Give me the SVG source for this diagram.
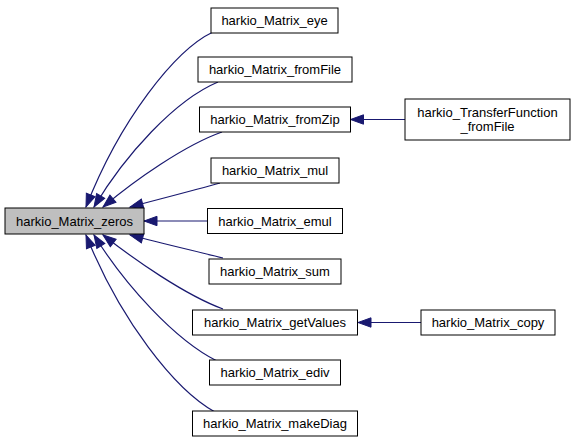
<svg xmlns="http://www.w3.org/2000/svg" width="575" height="443" viewBox="0 0 575 443">
<style>
.n rect{fill:#ffffff;stroke:#000000;stroke-width:1}
.n.root rect{fill:#bfbfbf}
.n text{font-family:"Liberation Sans",Arial,sans-serif;font-size:13px;fill:#000000;text-anchor:middle}
.e path{fill:none;stroke:#191970;stroke-width:1.2}
</style>
<defs>
<marker id="ah" markerUnits="userSpaceOnUse" markerWidth="16" markerHeight="12" refX="14" refY="5" orient="auto" viewBox="0 0 16 10">
<polygon points="1,0.3 14,5 1,9.7" fill="#191970" stroke="#191970" stroke-width="1"/>
</marker>
</defs>
<rect width="575" height="443" fill="#ffffff"/>
<g id="connectors" class="e">
<path d="M213,32 C175,50 120,120 86,207" marker-end="url(#ah)"/>
<path d="M218,82 C175,100 125,155 94,207" marker-end="url(#ah)"/>
<path d="M222,132 C185,145 135,180 103,207" marker-end="url(#ah)"/>
<path d="M220,183 C195,190 160,199 130,207" marker-end="url(#ah)"/>
<path d="M208,221 L144,221" marker-end="url(#ah)"/>
<path d="M223,258 C195,251 160,243 130,235" marker-end="url(#ah)"/>
<path d="M223,309 C185,295 135,260 103,235" marker-end="url(#ah)"/>
<path d="M217,361 C175,340 125,285 94,235" marker-end="url(#ah)"/>
<path d="M215,412 C175,390 120,320 86,235" marker-end="url(#ah)"/>
<path d="M405,119.5 L350.5,119.5" marker-end="url(#ah)"/>
<path d="M421,322.5 L358,322.5" marker-end="url(#ah)"/>
</g>
<g id="node_zeros" class="n root"><rect x="5" y="208" width="139" height="26"/><text x="74.5" y="225.5">harkio_Matrix_zeros</text></g>
<g id="node_eye" class="n"><rect x="211" y="8" width="127" height="25"/><text x="274.5" y="25">harkio_Matrix_eye</text></g>
<g id="node_fromFile" class="n"><rect x="198" y="57" width="154" height="25"/><text x="275" y="74">harkio_Matrix_fromFile</text></g>
<g id="node_fromZip" class="n"><rect x="199.5" y="107" width="151" height="25"/><text x="275" y="124">harkio_Matrix_fromZip</text></g>
<g id="node_mul" class="n"><rect x="211" y="158" width="128" height="25"/><text x="275" y="175">harkio_Matrix_mul</text></g>
<g id="node_emul" class="n"><rect x="207.5" y="208.5" width="135" height="25"/><text x="275" y="225.5">harkio_Matrix_emul</text></g>
<g id="node_sum" class="n"><rect x="209" y="259" width="132" height="25"/><text x="275" y="276">harkio_Matrix_sum</text></g>
<g id="node_getValues" class="n"><rect x="192.5" y="310" width="165" height="25"/><text x="275" y="327">harkio_Matrix_getValues</text></g>
<g id="node_ediv" class="n"><rect x="209.5" y="360" width="131" height="25"/><text x="275" y="377">harkio_Matrix_ediv</text></g>
<g id="node_makeDiag" class="n"><rect x="192.5" y="411" width="165" height="25"/><text x="275" y="428">harkio_Matrix_makeDiag</text></g>
<g id="node_TransferFunction_fromFile" class="n"><rect x="405" y="99" width="165" height="41"/><text x="487.5" y="116.5">harkio_TransferFunction</text><text x="487.5" y="131">_fromFile</text></g>
<g id="node_copy" class="n"><rect x="421" y="310" width="134" height="25"/><text x="488" y="327">harkio_Matrix_copy</text></g>
</svg>
